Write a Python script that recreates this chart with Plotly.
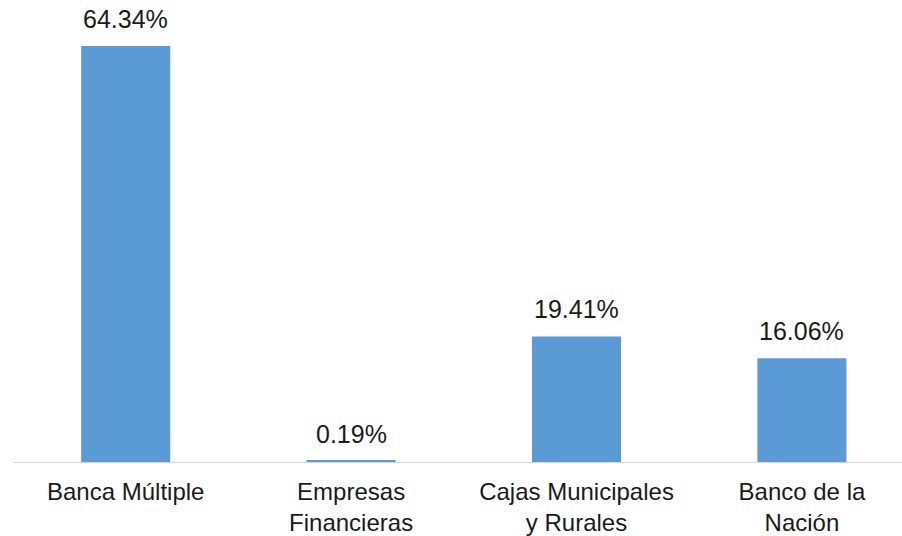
import plotly.graph_objects as go

categories = ["Banca Múltiple", "Empresas<br>Financieras", "Cajas Municipales<br>y Rurales", "Banco de la<br>Nación"]
values = [64.34, 0.19, 19.41, 16.06]
labels = ["64.34%", "0.19%", "19.41%", "16.06%"]

FONT = "Liberation Sans, Arial, sans-serif"
fig = go.Figure(go.Bar(x=categories, y=values, marker_color="#5B9BD5", marker_line_width=0,
                       hoverinfo="skip"))

for c, v, t in zip(categories, values, labels):
    fig.add_annotation(x=c, y=v, text=t, showarrow=False, yanchor="bottom", yshift=11,
                       font=dict(family=FONT, size=25, color="#1a1a1a"))

fig.update_layout(
    width=902, height=536,
    margin=dict(l=13, r=0, t=0, b=74),
    paper_bgcolor="white", plot_bgcolor="white",
    bargap=0.605,
    showlegend=False,
    font=dict(family=FONT, size=24, color="#1a1a1a"),
    xaxis=dict(range=[-0.5, 3.444], showline=True, linecolor="#d9d9d9", linewidth=1,
               ticks="", showgrid=False, ticklabelstandoff=8,
               tickfont=dict(size=24, color="#1a1a1a")),
    yaxis=dict(range=[0, 71.45], visible=False, showgrid=False),
)
fig.write_html("out.html")
